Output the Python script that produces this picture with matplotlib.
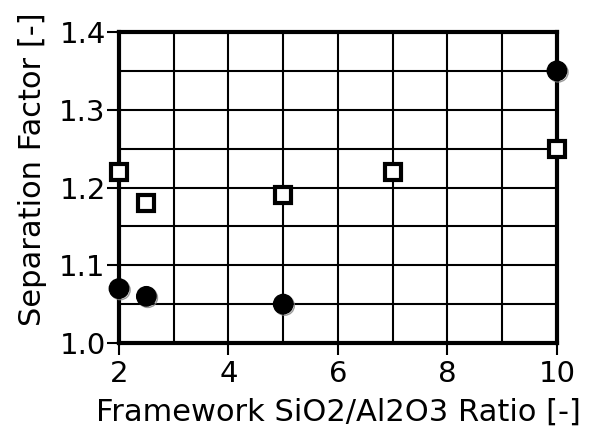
import matplotlib
matplotlib.use('Agg')
import matplotlib.pyplot as plt
import matplotlib.patheffects as pe
import numpy as np

plt.rcParams['font.family'] = ['DejaVu Sans']

# circles (filled)
ratio_filled = [2, 2.5, 5, 10]
sep_filled = [1.07, 1.06, 1.05, 1.35]
# squares (open)
ratio_open = [2, 2.5, 5, 7, 10]
sep_open = [1.22, 1.18, 1.19, 1.22, 1.25]

xticks = [2, 4, 6, 8, 10]
yticks = [1.0, 1.1, 1.2, 1.3, 1.4]

fig = plt.figure(figsize=(5.9, 4.3), dpi=100)
ax = fig.add_axes([0.2017, 0.2023, 0.7423, 0.7233])

ax.set_xlim(2, 10)
ax.set_ylim(1.0, 1.4)
ax.set_xticks(xticks)
ax.set_yticks(yticks)
ax.set_yticklabels(['1.0', '1.1', '1.2', '1.3', '1.4'])
ax.set_xticks(np.arange(2, 10.5, 1), minor=True)
ax.set_yticks(np.arange(1.0, 1.41, 0.05), minor=True)
ax.grid(which='both', color='black', linewidth=1.5)
ax.set_axisbelow(True)
ax.tick_params(which='major', direction='out', length=8.5, width=1.5,
               labelsize=21, pad=4, color='black')
ax.tick_params(axis='y', pad=1)
ax.tick_params(which='minor', length=0)
for sp in ax.spines.values():
    sp.set_linewidth(3)

shadow = [pe.SimpleLineShadow(offset=(1, -1), shadow_color='gray', alpha=0.8),
          pe.Normal()]
ax.plot(ratio_filled, sep_filled, 'o', ms=14, mfc='black', mec='black',
        clip_on=False, zorder=5, path_effects=shadow)
ax.plot(ratio_open, sep_open, 's', ms=11.5, mfc='white', mec='black',
        mew=3, clip_on=False, zorder=5)

ax.set_xlabel('Framework SiO2/Al2O3 Ratio [-]', fontsize=22, labelpad=7)
ax.set_ylabel('Separation Factor [-]', fontsize=22)
ax.yaxis.set_label_coords(-0.165, 0.56)

fig.savefig('out.png', dpi=100)
